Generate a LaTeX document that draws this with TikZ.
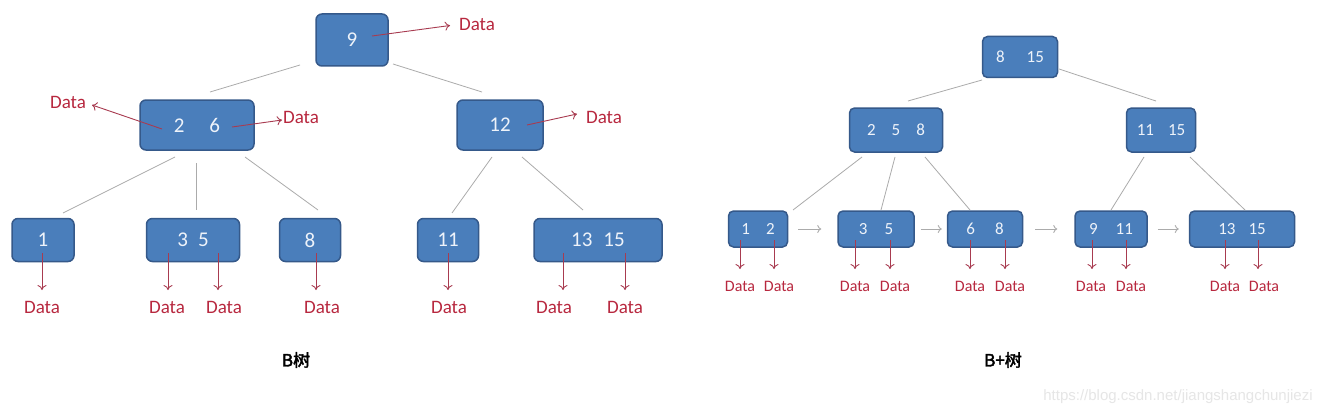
\documentclass[tikz,border=0pt]{standalone}
\usepackage{fontspec}
\setmainfont{Carlito}
\newfontfamily\carl{Carlito}
\newfontfamily\wmfont{Liberation Sans}
\newfontfamily\cjkb[FakeBold=2.5]{Noto Sans CJK SC}
\usetikzlibrary{arrows.meta}
\definecolor{nodefill}{HTML}{4A7EBB}
\definecolor{nodeborder}{HTML}{35598A}
\definecolor{nodetext}{HTML}{EEF3FA}
\definecolor{datared}{HTML}{B8283F}
\definecolor{arrowred}{HTML}{A83B50}
\definecolor{linegray}{HTML}{ABABAB}
\definecolor{wmgray}{HTML}{E6E6E6}
\tikzset{
  bnode/.style={draw=nodeborder, fill=nodefill, rounded corners=6pt, line width=1.5pt,
    text=nodetext, inner sep=0pt, font=\carl\fontsize{21}{21}\selectfont},
  bpnode/.style={bnode, rounded corners=5pt, font=\carl\fontsize{17}{17}\selectfont},
  datalbl/.style={text=datared, inner sep=0pt, font=\carl\fontsize{19}{19}\selectfont},
  bpdatalbl/.style={datalbl, font=\carl\fontsize{16}{16}\selectfont},
  darrow/.style={draw=arrowred, line width=0.9pt, -{To[length=5pt,width=9pt]}},
  tree/.style={draw=linegray, line width=0.8pt},
  linkarrow/.style={draw=linegray, line width=0.9pt, -{To[length=4pt,width=8pt]}},
  title/.style={inner sep=0pt, font=\cjkb\fontsize{17}{17}\selectfont}
}
\begin{document}
\begin{tikzpicture}[x=1pt,y=-1pt]
\useasboundingbox[fill=white] (0,0) rectangle (1331,412);

% ---------------- B tree ----------------
\node[bnode, minimum width=72pt, minimum height=52pt] (n9) at (352,40) {9};
\node[bnode, minimum width=114pt, minimum height=50pt] (n26) at (197,125) {2\hspace{25pt}6};
\node[bnode, minimum width=86pt, minimum height=50pt] (n12) at (500,125) {12};
\node[bnode, minimum width=62pt, minimum height=43pt] (n1) at (43,240) {1};
\node[bnode, minimum width=93pt, minimum height=43pt] (n35) at (193,240) {3\hspace{10pt}5};
\node[bnode, minimum width=61pt, minimum height=43pt] (n8) at (310,240) {8};
\node[bnode, minimum width=61pt, minimum height=43pt] (n11) at (448,240) {11};
\node[bnode, minimum width=128pt, minimum height=43pt] (n1315) at (598,240) {13\hspace{11pt}15};

% tree lines
\coordinate (t1a) at (300,65);  \coordinate (t1b) at (210,92);
\coordinate (t2a) at (393,64);  \coordinate (t2b) at (482,92);
\coordinate (t3a) at (175,157); \coordinate (t3b) at (63,213);
\coordinate (t4a) at (196,163); \coordinate (t4b) at (196,210);
\coordinate (t5a) at (245,157); \coordinate (t5b) at (318,210);
\coordinate (t6a) at (492,157); \coordinate (t6b) at (452,213);
\coordinate (t7a) at (522,157); \coordinate (t7b) at (583,210);
\foreach \i in {1,...,7} \draw[tree] (t\i a) -- (t\i b);

% data labels and arrows (internal)
\node[datalbl] (d9) at (477,24) {Data};
\node[datalbl] (d26l) at (68,102) {Data};
\node[datalbl] (d26r) at (301,117) {Data};
\node[datalbl] (d12) at (604,117) {Data};
\coordinate (s9) at (372,36);
\coordinate (s26l) at (162,129);
\coordinate (s26r) at (232,127);
\coordinate (s12) at (527,125);
\draw[darrow] (s9) -- (450,25.5);
\draw[darrow] (s26l) -- (92,105);
\draw[darrow] (s26r) -- (282,120);
\draw[darrow] (s12) -- (577,114);

% leaf data
\foreach \x/\lx/\nm in {42/42/a, 168/167/b, 218/224/c, 316/322/d, 448/449/e, 563/554/f, 625/625/g}{
  \node[datalbl] (bl\nm) at (\lx,307) {Data};
  \coordinate (bs\nm) at (\x,253);
  \draw[darrow] (bs\nm) -- (\x,290);
}

\node[title] (tB) at (296,360) {B树};

% ---------------- B+ tree ----------------
\node[bpnode, minimum width=75pt, minimum height=41pt] (r) at (1020,57) {8\hspace{22pt}15};
\node[bpnode, minimum width=93pt, minimum height=44pt] (i1) at (896,130) {2\hspace{16pt}5\hspace{16pt}8};
\node[bpnode, minimum width=69pt, minimum height=44pt] (i2) at (1161,130) {11\hspace{14pt}15};
\node[bpnode, minimum width=59pt, minimum height=36pt] (l1) at (758,229) {1\hspace{16pt}2};
\node[bpnode, minimum width=76pt, minimum height=36pt] (l2) at (876,229) {3\hspace{17pt}5};
\node[bpnode, minimum width=75pt, minimum height=36pt] (l3) at (985,229) {6\hspace{20pt}8};
\node[bpnode, minimum width=72pt, minimum height=36pt] (l4) at (1111,229) {9\hspace{18pt}11};
\node[bpnode, minimum width=105pt, minimum height=36pt] (l5) at (1242,229) {13\hspace{13pt}15};

\coordinate (u1a) at (982,80);   \coordinate (u1b) at (908,101);
\coordinate (u2a) at (1059,69);  \coordinate (u2b) at (1156,101);
\coordinate (u3a) at (862,157);  \coordinate (u3b) at (793,210);
\coordinate (u4a) at (895,157);  \coordinate (u4b) at (881,210);
\coordinate (u5a) at (925,157);  \coordinate (u5b) at (970,210);
\coordinate (u6a) at (1144,157); \coordinate (u6b) at (1111,210);
\coordinate (u7a) at (1190,157); \coordinate (u7b) at (1245,210);
\foreach \i in {1,...,7} \draw[tree] (u\i a) -- (u\i b);

% leaf links
\draw[linkarrow] ([xshift=10pt]l1.east) -- ([xshift=-16pt]l2.west);
\draw[linkarrow] ([xshift=6pt]l2.east) -- ([xshift=-5pt]l3.west);
\draw[linkarrow] ([xshift=12pt]l3.east) -- ([xshift=-17pt]l4.west);
\draw[linkarrow] ([xshift=10pt]l4.east) -- ([xshift=-10pt]l5.west);

\foreach \x/\lx/\nm in {740/740/a, 774/779/b, 855/855/c, 890/895/d, 970/970/e, 1005/1010/f, 1092/1091/g, 1126/1131/h, 1225/1225/i, 1258/1264/j}{
  \node[bpdatalbl] (pl\nm) at (\lx,286) {Data};
  \coordinate (ps\nm) at (\x,240);
  \draw[darrow] (ps\nm) -- (\x,269);
}

\node[title] (tBp) at (1003,360) {B+树};

\node[inner sep=0pt, text=wmgray, font=\wmfont\fontsize{15}{15}\selectfont] (wm) at (1178,397) {https://blog.csdn.net/jiangshangchunjiezi};
\end{tikzpicture}
\end{document}
